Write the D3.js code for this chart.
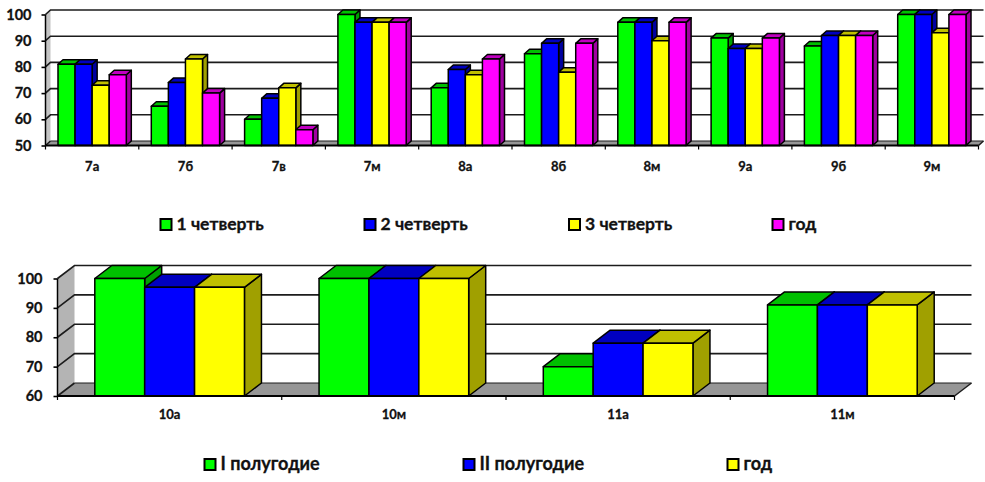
<!DOCTYPE html>
<html><head><meta charset="utf-8">
<script src="https://cdn.jsdelivr.net/npm/d3@7/dist/d3.min.js"></script>
<style>html,body{margin:0;padding:0;background:#fff}svg{display:block}
text{font-family:Lato,"Open Sans","Noto Sans",sans-serif;font-weight:700;fill:#111;stroke:#111;stroke-width:.3px}</style>
</head><body><svg id="c" width="985" height="482"></svg>
<script>
const topCategories = ["7а","7б","7в","7м","8а","8б","8м","9а","9б","9м"];
const topSeriesNames = ["1 четверть","2 четверть","3 четверть","год"];
const topQ1 = [81,65,60,100,72,85,97,91,88,100];
const topQ2 = [81,74,68,97,79,89,97,87,92,100];
const topQ3 = [73,83,72,97,77,78,90,87,92,93];
const topYear = [77,70,56,97,83,89,97,91,92,100];
const topTicks = [50,60,70,80,90,100];

const botCategories = ["10а","10м","11а","11м"];
const botSeriesNames = ["I полугодие","II полугодие","год"];
const botH1 = [100,100,70,91];
const botH2 = [97,100,78,91];
const botYear = [97,100,78,91];
const botTicks = [60,70,80,90,100];

const palette = {
  green:  {front:"#00ff00", top:"#00c000", side:"#00a000"},
  blue:   {front:"#0000ff", top:"#0000c0", side:"#0000a0"},
  yellow: {front:"#ffff00", top:"#c0c000", side:"#a0a000"},
  magenta:{front:"#ff00ff", top:"#c000c0", side:"#a000a0"}
};
const svg = d3.select("#c");

function chart(o){
  const g = svg.append("g");
  const x = d3.scaleBand().domain(o.categories).range([o.x0,o.x1]);
  const inner = d3.scaleBand().domain(o.names)
    .range([o.barPad, x.step()-o.barPad]);
  const y = d3.scaleLinear().domain(o.domain).range([o.yBase,o.yTop]);
  const dx=o.dx, dy=o.dy, sw=o.sw;
  const poly = pts => pts.map(p=>p.join(",")).join(" ");

  // left wall
  g.append("polygon").attr("fill",o.wall)
   .attr("points",poly([[o.x0,y(o.domain[0])],[o.x0+dx,y(o.domain[0])-dy],[o.x0+dx,y(o.domain[1])-dy],[o.x0,y(o.domain[1])]]));
  // floor
  g.append("polygon").attr("fill","#969696")
   .attr("points",poly([[o.x0,y(o.domain[0])],[o.x0+dx,y(o.domain[0])-dy],[o.x1+dx,y(o.domain[0])-dy],[o.x1,y(o.domain[0])]]));
  // grid lines: wall slant + back plane
  o.ticks.forEach(t=>{
    const yy=y(t);
    g.append("path").attr("fill","none").attr("stroke","#1c1c1c").attr("stroke-width",o.gridW)
     .attr("d",`M${o.x0},${yy}L${o.x0+dx},${yy-dy}`+ (t===o.domain[0] ? "" : `H${o.x1+dx}`));
  });
  g.append("path").attr("fill","none").attr("stroke","#1c1c1c").attr("stroke-width",1)
   .attr("d",`M${o.x0+dx},${y(o.domain[0])-dy}H${o.x1+dx}`);
  g.append("path").attr("fill","none").attr("stroke","#1c1c1c").attr("stroke-width",sw)
   .attr("d",`M${o.x1},${y(o.domain[0])}L${o.x1+dx},${y(o.domain[0])-dy}`);

  // bars
  o.categories.forEach((c,ci)=>{
    o.names.forEach((n,si)=>{
      const v=o.values[si][ci], col=palette[o.colors[si]];
      const l=x(c)+inner(n), r=l+inner.bandwidth(), t=y(v), b=y(o.domain[0]);
      const bar=g.append("g").attr("stroke","#000").attr("stroke-width",sw).attr("stroke-linejoin","round");
      bar.append("polygon").attr("fill",col.side)
        .attr("points",poly([[r,t],[r+dx,t-dy],[r+dx,b-dy],[r,b]]));
      bar.append("polygon").attr("fill",col.top)
        .attr("points",poly([[l,t],[l+dx,t-dy],[r+dx,t-dy],[r,t]]));
      bar.append("rect").attr("fill",col.front)
        .attr("x",l).attr("y",t).attr("width",r-l).attr("height",b-t);
    });
  });

  // axes
  const ay=g.append("g").attr("transform",`translate(${o.x0},0)`)
    .call(d3.axisLeft(y).tickValues(o.ticks).tickSize(o.tick).tickPadding(o.yPad).tickFormat(d3.format("d")));
  ay.selectAll("text").style("font-size",o.yFont+"px").attr("fill","#111");
  ay.selectAll("line").attr("stroke","#000").attr("stroke-width",o.gridW);
  ay.select(".domain").attr("stroke","#000").attr("stroke-width",sw).attr("d",`M0,${o.yBase}V${o.yTop}`);

  const ax=g.append("g").attr("transform",`translate(0,${o.yBase})`)
    .call(d3.axisBottom(x).tickSize(0).tickPadding(o.xPad));
  ax.selectAll("text").style("font-size",o.xFont+"px").attr("fill","#111");
  ax.select(".domain").attr("stroke","#000").attr("stroke-width",sw+.3).attr("d",`M${o.x0},0H${o.x1}`);
  // tick marks on category boundaries
  const edges=o.categories.map(c=>x(c)).concat(o.x1);
  ax.selectAll("line.edge").data(edges).join("line").attr("class","edge")
    .attr("x1",d=>d).attr("x2",d=>d).attr("y1",0).attr("y2",o.tick)
    .attr("stroke","#000").attr("stroke-width",1.2);

  // legend
  const lg=g.append("g");
  o.names.forEach((n,i)=>{
    const lx=o.legendX[i];
    lg.append("rect").attr("x",lx).attr("y",o.legendY).attr("width",11).attr("height",11)
      .attr("fill",palette[o.colors[i]].front).attr("stroke","#000").attr("stroke-width",2);
    lg.append("text").attr("x",lx+16).attr("y",o.legendY+11).style("font-size",o.legendFont+"px").text(n);
  });
}

chart({categories:topCategories,names:topSeriesNames,values:[topQ1,topQ2,topQ3,topYear],
  colors:["green","blue","yellow","magenta"],domain:[50,100],ticks:topTicks,
  x0:45.5,x1:978.5,yBase:145.5,yTop:14.5,dx:5,dy:4.5,sw:1.5,gridW:1.6,barPad:12.5,wall:"#c4c4c4",
  tick:4,yPad:10,xPad:16,yFont:14.5,xFont:13,legendX:[160.5,364.5,569,772.5],legendY:219,legendFont:17.5});
chart({categories:botCategories,names:botSeriesNames,values:[botH1,botH2,botYear],
  colors:["green","blue","yellow"],domain:[60,100],ticks:botTicks,
  x0:57.5,x1:954.5,yBase:396,yTop:278.5,dx:17,dy:13,sw:1.5,gridW:1.6,barPad:37.3,wall:"#b4b4b4",
  tick:4,yPad:11,xPad:14,yFont:14.5,xFont:13,legendX:[204.5,463.5,727.5],legendY:459,legendFont:18});
</script></body></html>
